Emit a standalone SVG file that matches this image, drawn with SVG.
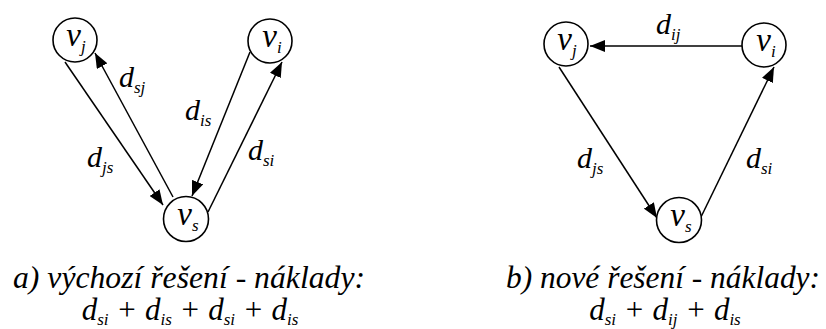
<svg xmlns="http://www.w3.org/2000/svg" width="826" height="329" viewBox="0 0 826 329">
<defs>
<marker id="ah" markerUnits="userSpaceOnUse" markerWidth="16" markerHeight="12" refX="15" refY="6" orient="auto">
<path d="M0,0 L15,6 L0,12 Z" fill="#000"/>
</marker>
</defs>
<rect width="826" height="329" fill="#fff"/>
<g id="connectors" stroke="#000" stroke-width="1.5" fill="none" marker-end="url(#ah)">
<line x1="65" y1="62" x2="163" y2="205"/>
<line x1="173" y1="197" x2="95" y2="53"/>
<line x1="250" y1="52" x2="192" y2="196"/>
<line x1="208" y1="212" x2="282" y2="62"/>
<line x1="742" y1="46" x2="590" y2="46"/>
<line x1="559" y1="67" x2="657" y2="218"/>
<line x1="701" y1="217" x2="774" y2="67"/>
</g>
<g id="a-vj"><circle fill="#fff" stroke="#000" stroke-width="1.6" cx="75" cy="40" r="22"/><text font-family="Liberation Serif" font-style="italic" font-size="33" x="76" y="46" text-anchor="middle">v<tspan font-size="17" dy="6">j</tspan></text></g>
<g id="a-vi"><circle fill="#fff" stroke="#000" stroke-width="1.6" cx="270" cy="41" r="22"/><text font-family="Liberation Serif" font-style="italic" font-size="33" x="272" y="47" text-anchor="middle">v<tspan font-size="17" dy="6">i</tspan></text></g>
<g id="a-vs"><circle fill="#fff" stroke="#000" stroke-width="1.6" cx="186" cy="219" r="22.5"/><text font-family="Liberation Serif" font-style="italic" font-size="33" x="188" y="225" text-anchor="middle">v<tspan font-size="17" dy="6">s</tspan></text></g>
<g id="b-vj"><circle fill="#fff" stroke="#000" stroke-width="1.6" cx="566" cy="44" r="22"/><text font-family="Liberation Serif" font-style="italic" font-size="33" x="567" y="50" text-anchor="middle">v<tspan font-size="17" dy="6">j</tspan></text></g>
<g id="b-vi"><circle fill="#fff" stroke="#000" stroke-width="1.6" cx="764" cy="45" r="22"/><text font-family="Liberation Serif" font-style="italic" font-size="33" x="766" y="51" text-anchor="middle">v<tspan font-size="17" dy="6">i</tspan></text></g>
<g id="b-vs"><circle fill="#fff" stroke="#000" stroke-width="1.6" cx="679" cy="220" r="22.5"/><text font-family="Liberation Serif" font-style="italic" font-size="33" x="681" y="226" text-anchor="middle">v<tspan font-size="17" dy="6">s</tspan></text></g>
<g id="labels">
<text font-family="Liberation Serif" font-style="italic" font-size="30" x="119" y="87">d<tspan font-size="17" dy="6">sj</tspan></text>
<text font-family="Liberation Serif" font-style="italic" font-size="30" x="185" y="120">d<tspan font-size="17" dy="6">is</tspan></text>
<text font-family="Liberation Serif" font-style="italic" font-size="30" x="87" y="167">d<tspan font-size="17" dy="6">js</tspan></text>
<text font-family="Liberation Serif" font-style="italic" font-size="30" x="248" y="160">d<tspan font-size="17" dy="6">si</tspan></text>
<text font-family="Liberation Serif" font-style="italic" font-size="30" x="656" y="34">d<tspan font-size="17" dy="6">ij</tspan></text>
<text font-family="Liberation Serif" font-style="italic" font-size="30" x="577" y="168">d<tspan font-size="17" dy="6">js</tspan></text>
<text font-family="Liberation Serif" font-style="italic" font-size="30" x="746" y="168">d<tspan font-size="17" dy="6">si</tspan></text>
</g>
<g id="captions">
<text font-family="Liberation Serif" font-style="italic" font-size="32" x="13" y="288" textLength="352" lengthAdjust="spacingAndGlyphs">a) výchozí řešení - náklady:</text>
<text font-family="Liberation Serif" font-style="italic" font-size="31" x="190" y="320" text-anchor="middle">d<tspan font-size="17" dy="5">si</tspan><tspan dy="-5"> + d</tspan><tspan font-size="17" dy="5">is</tspan><tspan dy="-5"> + d</tspan><tspan font-size="17" dy="5">si</tspan><tspan dy="-5"> + d</tspan><tspan font-size="17" dy="5">is</tspan></text>
<text font-family="Liberation Serif" font-style="italic" font-size="32" x="506" y="288" textLength="314" lengthAdjust="spacingAndGlyphs">b) nové řešení - náklady:</text>
<text font-family="Liberation Serif" font-style="italic" font-size="31" x="665" y="320" text-anchor="middle">d<tspan font-size="17" dy="5">si</tspan><tspan dy="-5"> + d</tspan><tspan font-size="17" dy="5">ij</tspan><tspan dy="-5"> + d</tspan><tspan font-size="17" dy="5">is</tspan></text>
</g>
</svg>
